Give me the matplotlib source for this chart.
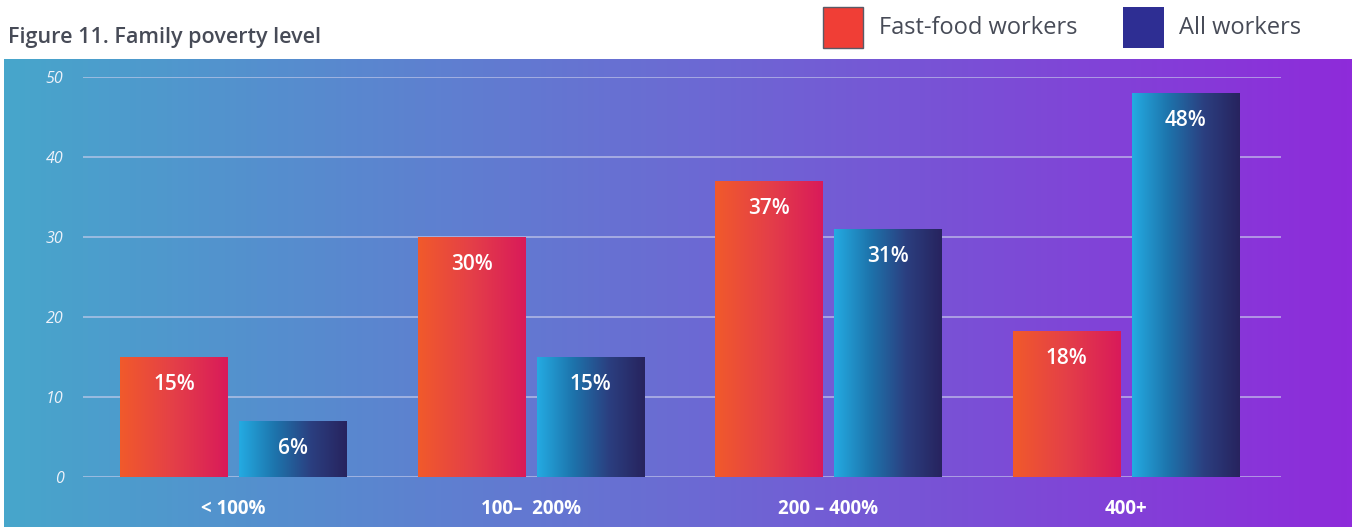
import numpy as np
import matplotlib.pyplot as plt
from matplotlib.colors import LinearSegmentedColormap
from matplotlib.patches import Rectangle

# Data
categories = ["< 100%", "100–  200%", "200 – 400%", "400+"]
fast_food = [15, 30, 37, 18.2]
all_workers = [7, 15, 31, 48]
fast_food_labels = ["15%", "30%", "37%", "18%"]
all_workers_labels = ["6%", "15%", "31%", "48%"]
y_ticks = [0, 10, 20, 30, 40, 50]

plt.rcParams['font.family'] = ['Open Sans', 'DejaVu Sans']

W, H = 1352, 527
fig = plt.figure(figsize=(W / 100, H / 100), dpi=100)

# background gradient panel
bg = fig.add_axes([4 / W, 0, 1 - 4 / W, (H - 59) / H])
bg_cmap = LinearSegmentedColormap.from_list("bg", ["#47A6CB", "#6B6BD3", "#8E2BDA"])
bg.imshow(np.linspace(0, 1, 256)[None, :], cmap=bg_cmap, aspect='auto', extent=(0, 1, 0, 1))
bg.set_axis_off()

# main axes
ax = fig.add_axes([83 / W, (H - 477) / H, (1281 - 83) / W, 400 / H])
ax.patch.set_alpha(0)
for s in ax.spines.values():
    s.set_visible(False)

x = np.arange(len(categories))
w = 0.363
off = 0.2
bars1 = ax.bar(x - off, fast_food, w, color='none')
bars2 = ax.bar(x + off, all_workers, w, color='none')

ff_cmap = LinearSegmentedColormap.from_list("ff", ["#F15A2B", "#E43F48", "#D91A5A"])
aw_cmap = LinearSegmentedColormap.from_list("aw", ["#24ABE2", "#1D74AC", "#2B3F80", "#27235E"])
grad = np.linspace(0, 1, 256)[None, :]
for bars, cmap in [(bars1, ff_cmap), (bars2, aw_cmap)]:
    for b in bars:
        x0, h = b.get_x(), b.get_height()
        ax.imshow(grad, cmap=cmap, aspect='auto', extent=(x0, x0 + b.get_width(), 0, h), zorder=3)

for bars, labels in [(bars1, fast_food_labels), (bars2, all_workers_labels)]:
    for b, lab in zip(bars, labels):
        ax.annotate(lab, (b.get_x() + b.get_width() / 2, b.get_height()), xytext=(0, -27),
                    textcoords='offset pixels', ha='center', va='center', color='white',
                    fontsize=15, fontweight='semibold', zorder=4)

ax.set_xlim(-0.506, 3.521)
ax.set_ylim(0, 50)
ax.set_yticks(y_ticks)
ax.yaxis.grid(True, color='#C9CDEB', linewidth=1.1, alpha=0.8)
ax.set_axisbelow(True)
ax.tick_params(axis='y', length=0, pad=14, labelcolor='#EEF2FA', labelsize=11.5)
for t in ax.get_yticklabels():
    t.set_fontstyle('italic')
ax.set_xticks(x)
ax.set_xticklabels(categories, color='white', fontsize=13.5, fontweight='bold')
ax.tick_params(axis='x', length=0, pad=16)

# title and legend
fig.text(8 / W, 1 - 37 / H, "Figure 11. Family poverty level", fontsize=15.5, color='#474B57',
         va='center', ha='left', fontweight='semibold')
fig.patches.append(Rectangle((823 / W, 1 - 48 / H), 40 / W, 41 / H, transform=fig.transFigure,
                             facecolor='#F03E36', edgecolor='#5A5A66', linewidth=1))
fig.patches.append(Rectangle((1123 / W, 1 - 48 / H), 41 / W, 41 / H, transform=fig.transFigure,
                             facecolor='#2E2E93', edgecolor='none'))
fig.text(879 / W, 1 - 28 / H, "Fast-food workers", fontsize=17, color='#474B57', va='center')
fig.text(1179 / W, 1 - 28 / H, "All workers", fontsize=17, color='#474B57', va='center')

plt.savefig("out.png", dpi=100)
